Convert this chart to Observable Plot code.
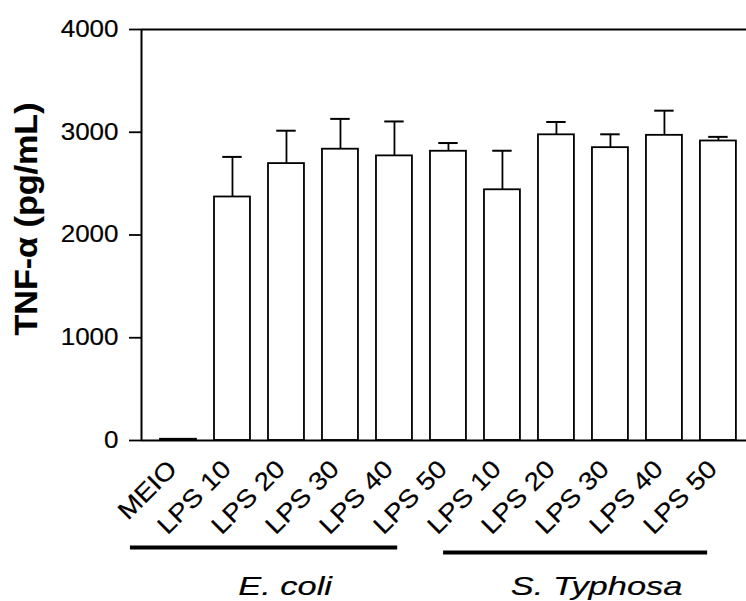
<!DOCTYPE html>
<html><head><meta charset="utf-8">
<script src="https://cdn.jsdelivr.net/npm/d3@7"></script>
<script src="https://cdn.jsdelivr.net/npm/@observablehq/plot@0.6"></script>
<style>body{margin:0;background:#fff} svg text{stroke:#000;stroke-width:0.18px}</style>
</head><body><div id="chart"></div>
<script>
const categories = ["MEIO","LPS 10","LPS 20","LPS 30","LPS 40","LPS 50","LPS 10","LPS 20","LPS 30","LPS 40","LPS 50"];
const means  = [12, 2370, 2695, 2835, 2770, 2815, 2440, 2975, 2850, 2970, 2915];
const errors = [0, 390, 320, 295, 335, 80, 380, 125, 130, 240, 40];
const yTicks = [0, 1000, 2000, 3000, 4000];
const groupNames = ["E. coli", "S. Typhosa"];
const groupStart = [-0.89, 4.91];
const groupEnd   = [4.06, 9.8];
const yLabel = "TNF-α (pg/mL)";

const data = categories.map((c, i) => ({i, name: c, v: means[i], e: errors[i]}));
const groups = groupNames.map((g, j) => ({name: g, x1: groupStart[j], x2: groupEnd[j]}));
const withErr = data.filter(d => d.e > 0);
const HALF = 0.333, CAP = 0.18;
const X0 = -0.685, X1 = 10.52;
const FS_TICK = 23, FS_YLAB = 31, FS_XLAB = 25, FS_GROUP = 26.5;

const plot = Plot.plot({
  width: 746, height: 601,
  marginLeft: 141, marginRight: 0, marginTop: 29, marginBottom: 161,
  style: {fontFamily: "'Liberation Sans', Arial, Helvetica, sans-serif", background: "#fff", color: "#000", overflow: "visible"},
  x: {domain: [X0, X1], axis: null},
  y: {domain: [0, 4000], axis: null},
  marks: [
    Plot.rectY(data, {x1: d => d.i - HALF, x2: d => d.i + HALF, y: "v", fill: "white", stroke: "black", strokeWidth: 1.8}),
    Plot.ruleX(withErr, {x: "i", y1: "v", y2: d => d.v + d.e, stroke: "black", strokeWidth: 1.8}),
    Plot.ruleY(withErr, {y: d => d.v + d.e, x1: d => d.i - CAP, x2: d => d.i + CAP, stroke: "black", strokeWidth: 2}),
    Plot.ruleY([0, 4000], {stroke: "black", strokeWidth: 2}),
    Plot.ruleX([X0], {stroke: "black", strokeWidth: 2}),
    Plot.axisY({ticks: yTicks, tickSize: 12, tickPadding: 11, fontSize: FS_TICK, strokeWidth: 1.8, tickFormat: d => String(d), label: null}),
    Plot.text([yLabel], {text: d => d, frameAnchor: "left", dx: -105, dy: -16, rotate: -90, textAnchor: "middle", lineAnchor: "bottom", fontSize: FS_YLAB, fontWeight: "bold"}),
    Plot.text(data, {x: "i", text: "name", frameAnchor: "bottom", dy: 30, rotate: -45, textAnchor: "end", lineAnchor: "bottom", fontSize: FS_XLAB}),
    Plot.ruleY([groups[0]], {y: () => 0, x1: "x1", x2: "x2", dy: 107, stroke: "black", strokeWidth: 4}),
    Plot.ruleY([groups[1]], {y: () => 0, x1: "x1", x2: "x2", dy: 112, stroke: "black", strokeWidth: 4}),
    Plot.text(groups, {x: d => (d.x1 + d.x2) / 2, text: "name", frameAnchor: "bottom", dx: 21, dy: 154, lineAnchor: "bottom", fontSize: FS_GROUP, fontStyle: "italic"})
  ]
});
document.getElementById("chart").append(plot);

// widen glyphs to match the wide-set lettering of the reference
const stretchBySize = {[FS_TICK]: 1.13, [FS_YLAB]: 1.1, [FS_XLAB]: 1.12, [FS_GROUP]: 1.3};
plot.querySelectorAll("text").forEach(t => {
  const fs = parseFloat(getComputedStyle(t).fontSize);
  const k = stretchBySize[fs];
  if (!k) return;
  const L = t.getComputedTextLength();
  t.setAttribute("textLength", L * k);
  t.setAttribute("lengthAdjust", "spacingAndGlyphs");
});
</script>
</body></html>
